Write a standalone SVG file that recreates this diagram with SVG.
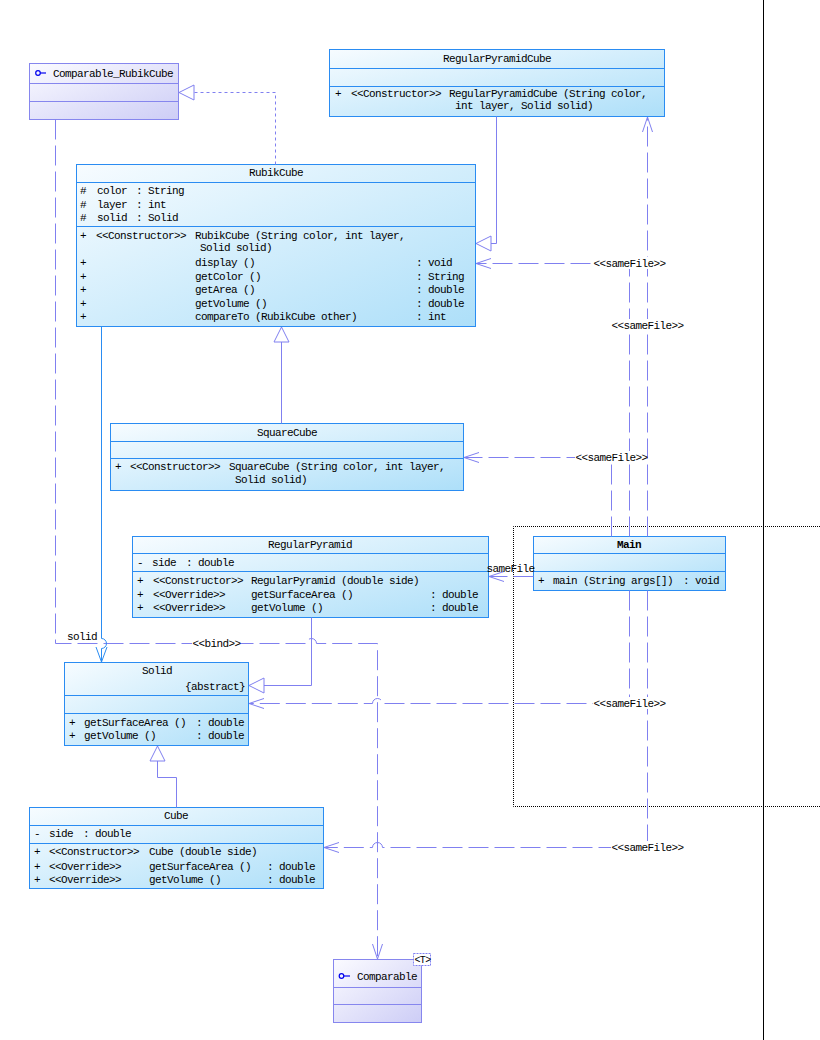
<svg xmlns="http://www.w3.org/2000/svg" width="820" height="1040" viewBox="0 0 820 1040">
<style>
.t{font-family:"Liberation Mono","DejaVu Sans Mono",monospace;font-size:11px;letter-spacing:-0.6px;fill:#000}
.m{text-anchor:middle}
.e{text-anchor:end}
.b{font-weight:bold}
.box{fill:url(#gc);stroke:#2a8cf2;stroke-width:1}
.div{stroke:#2a8cf2;stroke-width:1}
.ibox{fill:url(#gi);stroke:#8686ee;stroke-width:1}
.idiv{stroke:#8686ee;stroke-width:1}
.icon{fill:none;stroke:#0000ee;stroke-width:1.2}
.conn{fill:none;stroke:#8080f0;stroke-width:1}
.dash{stroke-dasharray:20 6}
.dot{stroke-dasharray:3 3}
.assoc{fill:none;stroke:#2a8cf2;stroke-width:1}
.bg{fill:#fff}
.frame{fill:none;stroke:#000;stroke-width:1;stroke-dasharray:1 1}
</style>
<defs>
<linearGradient id="gc" x1="0" y1="0" x2="1" y2="1">
<stop offset="0" stop-color="#f7fcff"/>
<stop offset="1" stop-color="#addff9"/>
</linearGradient>
<linearGradient id="gi" x1="0" y1="0" x2="1" y2="1">
<stop offset="0" stop-color="#fbfbff"/>
<stop offset="1" stop-color="#cdcdf6"/>
</linearGradient>
<marker id="gen" markerUnits="userSpaceOnUse" markerWidth="18" markerHeight="18" viewBox="-17 -9 18 18" refX="0" refY="0" orient="auto" overflow="visible">
<path d="M0,0 L-15,-7.5 L-15,7.5 Z" fill="#fff" stroke="#8080f0" stroke-width="1"/>
</marker>
<marker id="open" markerUnits="userSpaceOnUse" markerWidth="18" markerHeight="14" viewBox="-17 -7 18 14" refX="0" refY="0" orient="auto" overflow="visible">
<path d="M-15,-5 L0,0 L-15,5" fill="none" stroke="#8080f0" stroke-width="1"/>
</marker>
<marker id="openb" markerUnits="userSpaceOnUse" markerWidth="18" markerHeight="14" viewBox="-17 -7 18 14" refX="0" refY="0" orient="auto" overflow="visible">
<path d="M-15,-5.5 L0,0 L-15,5.5" fill="none" stroke="#2a8cf2" stroke-width="1"/>
</marker>
</defs>

<g id="background">
<rect x="0" y="0" width="820" height="1040" fill="#fff"/>
<path class="frame" d="M820,526.5 H513.5 V806.5 H820"/>
<line x1="763.5" y1="0" x2="763.5" y2="1040" stroke="#000" stroke-width="1"/>
</g>

<g id="Comparable_RubikCube">
<rect class="ibox" x="29.5" y="63.5" width="149" height="56"/>
<line class="idiv" x1="29.5" y1="83.5" x2="178.5" y2="83.5"/>
<line class="idiv" x1="29.5" y1="101.5" x2="178.5" y2="101.5"/>
<circle class="icon" cx="38" cy="73" r="2.3"/>
<line class="icon" x1="40.3" y1="73" x2="46" y2="73"/>
<text class="t" x="53" y="77">Comparable_RubikCube</text>
</g>

<g id="RegularPyramidCube">
<rect class="box" x="329.5" y="49.5" width="335" height="67"/>
<line class="div" x1="329.5" y1="68.5" x2="664.5" y2="68.5"/>
<line class="div" x1="329.5" y1="86.5" x2="664.5" y2="86.5"/>
<text class="t m" x="497" y="62">RegularPyramidCube</text>
<text class="t" x="335" y="97">+</text>
<text class="t" x="351" y="97">&lt;&lt;Constructor&gt;&gt;</text>
<text class="t" x="449" y="97">RegularPyramidCube (String color,</text>
<text class="t" x="455" y="109">int layer, Solid solid)</text>
</g>

<g id="RubikCube">
<rect class="box" x="76.5" y="164.5" width="399" height="162"/>
<line class="div" x1="76.5" y1="182.5" x2="475.5" y2="182.5"/>
<line class="div" x1="76.5" y1="226.5" x2="475.5" y2="226.5"/>
<text class="t m" x="276" y="176">RubikCube</text>
<text class="t" x="80" y="194">#</text><text class="t" x="97" y="194">color</text><text class="t" x="136" y="194">: String</text>
<text class="t" x="80" y="208">#</text><text class="t" x="97" y="208">layer</text><text class="t" x="136" y="208">: int</text>
<text class="t" x="80" y="221">#</text><text class="t" x="97" y="221">solid</text><text class="t" x="136" y="221">: Solid</text>
<text class="t" x="80" y="239">+</text><text class="t" x="96" y="239">&lt;&lt;Constructor&gt;&gt;</text><text class="t" x="195" y="239">RubikCube (String color, int layer,</text>
<text class="t" x="200" y="251">Solid solid)</text>
<text class="t" x="80" y="266">+</text><text class="t" x="195" y="266">display ()</text><text class="t" x="416" y="266">: void</text>
<text class="t" x="80" y="280">+</text><text class="t" x="195" y="280">getColor ()</text><text class="t" x="416" y="280">: String</text>
<text class="t" x="80" y="293">+</text><text class="t" x="195" y="293">getArea ()</text><text class="t" x="416" y="293">: double</text>
<text class="t" x="80" y="307">+</text><text class="t" x="195" y="307">getVolume ()</text><text class="t" x="416" y="307">: double</text>
<text class="t" x="80" y="320">+</text><text class="t" x="195" y="320">compareTo (RubikCube other)</text><text class="t" x="416" y="320">: int</text>
</g>

<g id="SquareCube">
<rect class="box" x="110.5" y="423.5" width="353" height="67"/>
<line class="div" x1="110.5" y1="441.5" x2="463.5" y2="441.5"/>
<line class="div" x1="110.5" y1="458.5" x2="463.5" y2="458.5"/>
<text class="t m" x="287" y="436">SquareCube</text>
<text class="t" x="115" y="470">+</text>
<text class="t" x="130" y="470">&lt;&lt;Constructor&gt;&gt;</text>
<text class="t" x="229" y="470">SquareCube (String color, int layer,</text>
<text class="t" x="235" y="483">Solid solid)</text>
</g>

<g id="RegularPyramid">
<rect class="box" x="132.5" y="536.5" width="356" height="81"/>
<line class="div" x1="132.5" y1="553.5" x2="488.5" y2="553.5"/>
<line class="div" x1="132.5" y1="571.5" x2="488.5" y2="571.5"/>
<text class="t m" x="310" y="548">RegularPyramid</text>
<text class="t" x="137" y="566">-</text><text class="t" x="152" y="566">side</text><text class="t" x="186" y="566">: double</text>
<text class="t" x="137" y="584">+</text><text class="t" x="153" y="584">&lt;&lt;Constructor&gt;&gt;</text><text class="t" x="251" y="584">RegularPyramid (double side)</text>
<text class="t" x="137" y="598">+</text><text class="t" x="153" y="598">&lt;&lt;Override&gt;&gt;</text><text class="t" x="251" y="598">getSurfaceArea ()</text><text class="t" x="430" y="598">: double</text>
<text class="t" x="137" y="611">+</text><text class="t" x="153" y="611">&lt;&lt;Override&gt;&gt;</text><text class="t" x="251" y="611">getVolume ()</text><text class="t" x="430" y="611">: double</text>
</g>

<g id="Main">
<rect class="box" x="533.5" y="536.5" width="192" height="54"/>
<line class="div" x1="533.5" y1="553.5" x2="725.5" y2="553.5"/>
<line class="div" x1="533.5" y1="571.5" x2="725.5" y2="571.5"/>
<text class="t m b" x="629" y="548">Main</text>
<text class="t" x="538" y="584">+</text>
<text class="t" x="553" y="584">main (String args[])</text>
<text class="t" x="683" y="584">: void</text>
</g>

<g id="Solid">
<rect class="box" x="64.5" y="662.5" width="184" height="83"/>
<line class="div" x1="64.5" y1="695.5" x2="248.5" y2="695.5"/>
<line class="div" x1="64.5" y1="713.5" x2="248.5" y2="713.5"/>
<text class="t m" x="157" y="674">Solid</text>
<text class="t e" x="245" y="690">{abstract}</text>
<text class="t" x="69" y="726">+</text><text class="t" x="84" y="726">getSurfaceArea ()</text><text class="t" x="196" y="726">: double</text>
<text class="t" x="69" y="739">+</text><text class="t" x="84" y="739">getVolume ()</text><text class="t" x="196" y="739">: double</text>
</g>

<g id="Cube">
<rect class="box" x="29.5" y="807.5" width="294" height="81"/>
<line class="div" x1="29.5" y1="825.5" x2="323.5" y2="825.5"/>
<line class="div" x1="29.5" y1="843.5" x2="323.5" y2="843.5"/>
<text class="t m" x="176" y="819">Cube</text>
<text class="t" x="34" y="837">-</text><text class="t" x="49" y="837">side</text><text class="t" x="83" y="837">: double</text>
<text class="t" x="34" y="855">+</text><text class="t" x="49" y="855">&lt;&lt;Constructor&gt;&gt;</text><text class="t" x="149" y="855">Cube (double side)</text>
<text class="t" x="34" y="870">+</text><text class="t" x="49" y="870">&lt;&lt;Override&gt;&gt;</text><text class="t" x="149" y="870">getSurfaceArea ()</text><text class="t" x="267" y="870">: double</text>
<text class="t" x="34" y="883">+</text><text class="t" x="49" y="883">&lt;&lt;Override&gt;&gt;</text><text class="t" x="149" y="883">getVolume ()</text><text class="t" x="267" y="883">: double</text>
</g>

<g id="Comparable">
<rect class="ibox" x="333.5" y="959.5" width="88" height="63"/>
<line class="idiv" x1="333.5" y1="987.5" x2="421.5" y2="987.5"/>
<line class="idiv" x1="333.5" y1="1004.5" x2="421.5" y2="1004.5"/>
<circle class="icon" cx="341.5" cy="976" r="2.3"/>
<line class="icon" x1="343.8" y1="976" x2="350" y2="976"/>
<text class="t" x="357" y="980">Comparable</text>
<rect x="413.5" y="953.5" width="17" height="12" fill="#fff" stroke="#8080f0" stroke-dasharray="2 1"/>
<text class="t m" x="422.5" y="963" style="font-size:10px">&lt;T&gt;</text>
</g>

<g id="connectors">
<path class="conn dot" d="M275.5,164.5 V92.5 H179" marker-end="url(#gen)"/>
<path class="conn" d="M496.5,116.5 V243.5 H476" marker-end="url(#gen)"/>
<path class="conn" d="M281.5,423.5 V327" marker-end="url(#gen)"/>
<path class="conn" d="M311.5,617.5 V685.5 H249" marker-end="url(#gen)"/>
<path class="conn" d="M176.5,807.5 V777.5 H157.5 V746" marker-end="url(#gen)"/>
<path class="conn dash" d="M647.5,536.5 V117" marker-end="url(#open)"/>
<path class="conn dash" d="M629.5,536.5 V263.5 H476" marker-end="url(#open)"/>
<path class="conn dash" d="M611.5,536.5 V457.5 H464" marker-end="url(#open)"/>
<path class="conn dash" d="M533.5,576.5 H489" marker-end="url(#open)"/>
<path class="conn dash" d="M629.5,590.5 V703.5 H382.5 A5,5 0 0 0 372.5,703.5 H249" marker-end="url(#open)"/>
<path class="conn dash" d="M647.5,590.5 V847.5 H382.5 A5,5 0 0 0 372.5,847.5 H324" marker-end="url(#open)"/>
<path class="conn dash" d="M55.5,119.5 V643.5 H306.5 A5,5 0 0 1 316.5,643.5 H377.5 V959" marker-end="url(#open)"/>
<path class="assoc" d="M101.5,326.5 V638.5 A5,5 0 0 1 101.5,648.5 V662" marker-end="url(#openb)"/>

<rect class="bg" x="593" y="257" width="72" height="12"/>
<text class="t m" x="629.5" y="267">&lt;&lt;sameFile&gt;&gt;</text>
<rect class="bg" x="611" y="319" width="72" height="12"/>
<text class="t m" x="647.5" y="329">&lt;&lt;sameFile&gt;&gt;</text>
<rect class="bg" x="575" y="451" width="72" height="12"/>
<text class="t m" x="611.5" y="461">&lt;&lt;sameFile&gt;&gt;</text>
<text class="t m" x="510.5" y="572">sameFile</text>
<rect class="bg" x="593" y="697" width="72" height="12"/>
<text class="t m" x="629.5" y="707">&lt;&lt;sameFile&gt;&gt;</text>
<rect class="bg" x="611" y="841" width="72" height="12"/>
<text class="t m" x="647.5" y="851">&lt;&lt;sameFile&gt;&gt;</text>
<rect class="bg" x="192" y="637" width="48" height="12"/>
<text class="t m" x="216.5" y="647">&lt;&lt;bind&gt;&gt;</text>
<text class="t" x="67" y="640">solid</text>
</g>
</svg>
